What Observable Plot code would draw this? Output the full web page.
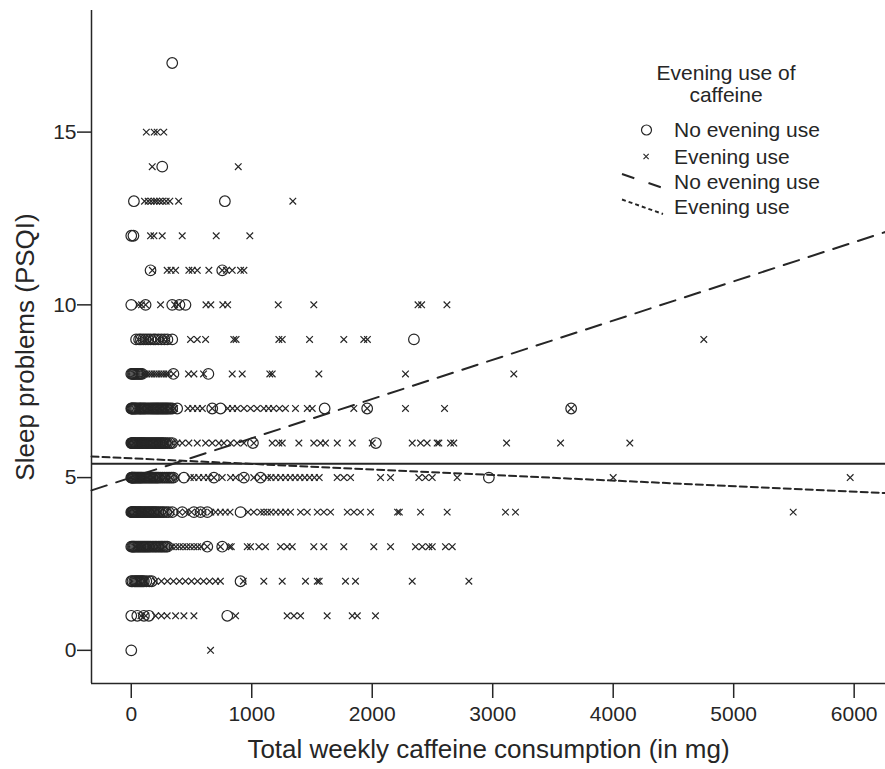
<!DOCTYPE html>
<html><head><meta charset="utf-8">
<script src="https://cdn.jsdelivr.net/npm/d3@7"></script>
<script src="https://cdn.jsdelivr.net/npm/@observablehq/plot@0.6"></script>
<style>body{margin:0;background:#fff;} #chart{width:885px;height:769px;}</style>
</head><body><div id="chart"></div>
<script>
// Axis settings
const xDomain = [-330, 6260];
const yDomain = [-0.96, 18.52];
const xTicks = [0, 1000, 2000, 3000, 4000, 5000, 6000];
const yTicks = [0, 5, 10, 15];
const xTitle = "Total weekly caffeine consumption (in mg)";
const yTitle = "Sleep problems (PSQI)";
const legendTitle = ["Evening use of", "caffeine"];
const groupNames = ["No evening use", "Evening use"];

// Points: [sleep score, [weekly caffeine mg ...]]
const noEveningUse = [
  [17, [340]],
  [14, [257]],
  [13, [22, 777]],
  [12, [0, 18]],
  [11, [160, 755]],
  [10, [0, 119, 340, 400, 450]],
  [9, [40, 65, 80, 100, 120, 140, 160, 185, 200, 225, 250, 275, 300, 340, 2346]],
  [8, [0, 8, 15, 22, 30, 40, 50, 60, 70, 80, 90, 350, 640]],
  [7, [0, 5, 10, 18, 25, 32, 40, 50, 63, 72, 80, 90, 100, 110, 120, 133, 146, 158, 170, 180, 190, 200, 210, 220, 229, 240, 250, 260, 270, 280, 290, 300, 312, 325, 340, 381, 672, 741, 1605, 1958, 3651]],
  [6, [0, 5, 10, 15, 20, 28, 35, 42, 50, 58, 65, 72, 80, 88, 95, 102, 110, 120, 130, 140, 150, 160, 170, 180, 190, 200, 210, 220, 230, 240, 250, 260, 270, 285, 300, 320, 340, 1010, 2030]],
  [5, [0, 4, 8, 13, 18, 24, 30, 37, 45, 52, 60, 67, 75, 82, 90, 100, 110, 120, 130, 140, 150, 160, 170, 180, 190, 200, 210, 220, 230, 245, 260, 275, 290, 305, 320, 335, 350, 437, 686, 935, 1073, 2968]],
  [4, [0, 5, 10, 15, 20, 28, 35, 42, 50, 58, 65, 72, 80, 90, 100, 110, 120, 130, 140, 150, 160, 170, 180, 190, 200, 212, 225, 240, 256, 270, 290, 310, 340, 423, 520, 575, 631, 907]],
  [3, [0, 8, 15, 22, 30, 40, 50, 60, 70, 80, 90, 100, 110, 120, 130, 140, 150, 162, 175, 188, 200, 212, 225, 238, 250, 262, 275, 288, 300, 631, 755]],
  [2, [0, 10, 25, 35, 45, 55, 65, 75, 85, 95, 105, 125, 150, 170, 907]],
  [1, [0, 50, 105, 146, 797]],
  [0, [0]]
];
const eveningUse = [
  [15, [125, 190, 215, 270]],
  [14, [174, 888]],
  [13, [110, 140, 165, 190, 210, 235, 260, 290, 320, 393, 1341]],
  [12, [160, 188, 257, 423, 705, 984]],
  [11, [175, 298, 330, 368, 478, 506, 548, 644, 755, 790, 838, 907, 935]],
  [10, [60, 85, 119, 243, 360, 390, 620, 660, 760, 800, 1220, 1515, 2380, 2410, 2620]],
  [9, [60, 110, 130, 170, 220, 270, 300, 492, 548, 617, 851, 870, 1225, 1253, 1480, 1764, 1930, 1960, 4752]],
  [8, [110, 130, 150, 170, 190, 210, 230, 250, 270, 290, 310, 350, 475, 520, 600, 838, 921, 1150, 1170, 1557, 2276, 3175]],
  [7, [50, 90, 130, 160, 200, 240, 280, 320, 360, 470, 510, 550, 590, 672, 800, 840, 880, 935, 990, 1045, 1100, 1140, 1180, 1230, 1280, 1363, 1461, 1502, 1847, 1958, 2276, 2600, 3651]],
  [6, [20, 60, 100, 140, 180, 220, 260, 300, 340, 380, 423, 478, 548, 617, 672, 727, 769, 824, 879, 935, 1017, 1170, 1225, 1253, 1391, 1515, 1571, 1612, 1710, 1834, 2000, 2332, 2401, 2456, 2539, 2553, 2650, 2677, 3115, 3563, 4138]],
  [5, [30, 80, 130, 180, 230, 280, 330, 380, 490, 520, 560, 600, 640, 686, 755, 824, 866, 935, 1017, 1073, 1130, 1160, 1200, 1240, 1280, 1320, 1360, 1400, 1440, 1480, 1520, 1560, 1709, 1764, 1820, 2069, 2152, 2387, 2442, 2498, 2705, 4000, 5967]],
  [4, [30, 90, 140, 190, 240, 290, 340, 400, 450, 500, 550, 600, 660, 700, 740, 780, 820, 968, 1017, 1073, 1100, 1130, 1160, 1200, 1240, 1280, 1322, 1405, 1461, 1544, 1598, 1654, 1793, 1848, 1903, 1986, 2210, 2225, 2401, 2622, 3106, 3189, 5494]],
  [3, [40, 100, 160, 220, 280, 340, 370, 400, 430, 460, 490, 520, 550, 580, 631, 740, 815, 830, 963, 990, 1059, 1114, 1239, 1294, 1336, 1515, 1598, 1764, 2013, 2152, 2359, 2415, 2470, 2498, 2608, 2664]],
  [2, [60, 110, 200, 250, 300, 350, 400, 450, 500, 550, 600, 650, 700, 740, 930, 1100, 1253, 1446, 1544, 1560, 1778, 1861, 2332, 2802]],
  [1, [80, 120, 202, 250, 298, 368, 437, 520, 866, 1294, 1350, 1405, 1626, 1834, 1876, 2027]],
  [0, [658]]
];

// Reference lines
const overallMean = 5.40;
const fitNoEvening = [{x: -330, y: 4.63}, {x: 6260, y: 12.11}];
const fitEvening = [{x: -330, y: 5.61}, {x: 6260, y: 4.55}];

const flat = rows => rows.flatMap(([y, xs]) => xs.map(x => ({x, y})));
const ink = "#262626";
const font = "'Liberation Sans', Arial, Helvetica, sans-serif";

const plot = Plot.plot({
  width: 885, height: 769,
  marginLeft: 91, marginRight: 0, marginTop: 10, marginBottom: 86,
  x: {domain: xDomain},
  y: {domain: yDomain},
  style: {fontFamily: font, color: ink, background: "#fff", overflow: "visible"},
  marks: [
    Plot.ruleY([overallMean], {stroke: ink, strokeWidth: 2}),
    Plot.line(fitNoEvening, {x: "x", y: "y", stroke: ink, strokeWidth: 2, strokeDasharray: "16,10"}),
    Plot.line(fitEvening, {x: "x", y: "y", stroke: ink, strokeWidth: 2, strokeDasharray: "7,4"}),
    Plot.dot(flat(noEveningUse), {x: "x", y: "y", r: 5.3, stroke: ink, strokeWidth: 1.2, fill: "none"}),
    Plot.dot(flat(eveningUse), {x: "x", y: "y", symbol: "times", r: 3.1, stroke: ink, strokeWidth: 1.2}),
    Plot.axisX({ticks: xTicks, tickSize: 15, tickPadding: 8, fontSize: 21, label: null, tickFormat: d => String(d), stroke: ink, strokeWidth: 1.5}),
    Plot.axisY({ticks: yTicks, tickSize: 14, tickPadding: 1, fontSize: 21, label: null, stroke: ink, strokeWidth: 1.5}),
    Plot.ruleX([xDomain[0]], {stroke: ink, strokeWidth: 1.5}),
    Plot.ruleY([yDomain[0]], {stroke: ink, strokeWidth: 1.5}),
    Plot.text([xTitle], {text: d => d, frameAnchor: "bottom", dy: 74, fontSize: 26, fill: ink}),
    Plot.text([yTitle], {text: d => d, frameAnchor: "left", textAnchor: "middle", dx: -66, rotate: -90, fontSize: 26, fill: ink})
  ]
});
document.getElementById("chart").appendChild(plot);

// Legend
const svg = d3.select(plot);
const lg = svg.append("g").attr("font-family", font).attr("font-size", 21).attr("fill", ink);
lg.selectAll("text.ltitle").data(legendTitle).join("text").attr("class", "ltitle")
  .attr("x", 726).attr("y", (d, i) => 73 + i * 22)
  .attr("text-anchor", "middle").attr("dy", "0.35em").text(d => d);
const rowsY = [130, 156.5, 181.5, 206.5];
const labels = [groupNames[0], groupNames[1], groupNames[0], groupNames[1]];
lg.selectAll("text.litem").data(labels).join("text").attr("class", "litem")
  .attr("x", 674).attr("y", (d, i) => rowsY[i]).attr("text-anchor", "start")
  .attr("dy", "0.35em").text(d => d);
lg.append("circle").attr("cx", 646.5).attr("cy", rowsY[0]).attr("r", 5)
  .attr("fill", "none").attr("stroke", ink).attr("stroke-width", 1.2);
lg.append("path").attr("d", `M643.5,${rowsY[1]-2.6}L648.7,${rowsY[1]+2.6}M643.5,${rowsY[1]+2.6}L648.7,${rowsY[1]-2.6}`)
  .attr("stroke", ink).attr("stroke-width", 1.1);
lg.append("line").attr("x1", 622).attr("y1", 174).attr("x2", 663).attr("y2", 188)
  .attr("stroke", ink).attr("stroke-width", 2).attr("stroke-dasharray", "13,15");
lg.append("line").attr("x1", 622).attr("y1", 199.5).attr("x2", 663).attr("y2", 214)
  .attr("stroke", ink).attr("stroke-width", 2).attr("stroke-dasharray", "4,3");
</script></body></html>
